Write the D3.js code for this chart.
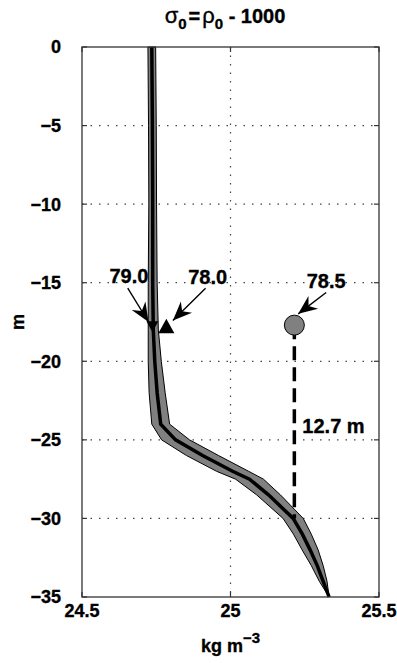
<!DOCTYPE html>
<html>
<head>
<meta charset="utf-8">
<script src="https://cdn.jsdelivr.net/npm/d3@7"></script>
<style>
  body { margin: 0; background: #fff; }
  text { font-family: "Liberation Sans", Arial, sans-serif; font-weight: bold; fill: #000; stroke: #000; stroke-width: 0.35px; }
</style>
</head>
<body>
<div id="chart"></div>
<script>
// density profile (sigma_0, kg m^-3) against depth (m)
const depth = [0, -5, -10, -15, -18, -20, -22, -24, -25, -26, -27, -27.5, -28.5, -30, -31, -32, -33, -34, -35];
const sigmaMean = [24.735, 24.737, 24.738, 24.738, 24.740, 24.745, 24.753, 24.765, 24.815, 24.906, 25.007, 25.064, 25.128, 25.211, 25.242, 25.268, 25.292, 25.312, 25.332];
const sigmaLow = [24.722, 24.724, 24.725, 24.723, 24.723, 24.723, 24.726, 24.735, 24.768, 24.852, 24.953, 25.017, 25.088, 25.177, 25.212, 25.241, 25.272, 25.299, 25.332];
const sigmaHigh = [24.748, 24.750, 24.751, 24.753, 24.757, 24.767, 24.780, 24.795, 24.862, 24.960, 25.061, 25.111, 25.168, 25.245, 25.272, 25.295, 25.312, 25.325, 25.332];

const xTicks = [24.5, 25, 25.5];
const yTicks = [0, -5, -10, -15, -20, -25, -30, -35];

// markers: [sigma, depth]
const markDown = [24.737, -17.8];
const markUp = [24.784, -17.75];
const markCircle = [25.215, -17.7];
const dropDepth = -30;

// annotations: label, label position, arrow start, arrow tip
const notes = [
  { label: "79.0", at: [24.658, -15.0], from: [24.654, -15.34], to: [24.724, -17.5] },
  { label: "78.0", at: [24.923, -15.1], from: [24.916, -15.36], to: [24.806, -17.4] },
  { label: "78.5", at: [25.322, -15.35], from: [25.322, -15.62], to: [25.228, -16.98] },
];
const gapLabel = { label: "12.7 m", at: [25.242, -24.57] };

const width = 397, height = 663;
const margin = { top: 47, right: 18, bottom: 66, left: 82 };

const x = d3.scaleLinear().domain([24.5, 25.5]).range([margin.left, width - margin.right]);
const y = d3.scaleLinear().domain([0, -35]).range([margin.top, height - margin.bottom]);

const svg = d3.select("#chart").append("svg")
  .attr("width", width)
  .attr("height", height);

// grid
const gGrid = svg.append("g").attr("class", "grid")
  .attr("stroke", "#444").attr("stroke-width", 1.2).attr("stroke-dasharray", "1.5,7");
gGrid.selectAll(".gx")
  .data(xTicks.slice(1, -1))
  .join("line")
  .attr("x1", (d) => x(d)).attr("x2", (d) => x(d))
  .attr("y1", y(0)).attr("y2", y(-35));
gGrid.selectAll(".gy")
  .data(yTicks.slice(1, -1))
  .join("line")
  .attr("y1", (d) => y(d)).attr("y2", (d) => y(d))
  .attr("x1", x(24.5)).attr("x2", x(25.5));

// band + mean line
const rows = depth.map((d, i) => ({ d, m: sigmaMean[i], lo: sigmaLow[i], hi: sigmaHigh[i] }));
const area = d3.area()
  .y((d) => y(d.d))
  .x0((d) => x(d.lo))
  .x1((d) => x(d.hi));
svg.append("path")
  .datum(rows)
  .attr("d", area)
  .attr("fill", "#808080")
  .attr("stroke", "#000")
  .attr("stroke-width", 1);
svg.append("path")
  .datum(rows)
  .attr("d", d3.line().x((d) => x(d.m)).y((d) => y(d.d)))
  .attr("fill", "none")
  .attr("stroke", "#000")
  .attr("stroke-width", 3.5);

// dashed drop line and circle
svg.append("line")
  .attr("x1", x(markCircle[0])).attr("x2", x(markCircle[0]))
  .attr("y1", y(markCircle[1])).attr("y2", y(dropDepth))
  .attr("stroke", "#000").attr("stroke-width", 3.5)
  .attr("stroke-dasharray", "14,7");
svg.append("circle")
  .attr("cx", x(markCircle[0])).attr("cy", y(markCircle[1]))
  .attr("r", 10)
  .attr("fill", "#808080").attr("stroke", "#000").attr("stroke-width", 1);

// triangles
const tri = (cx, cy, s, up) => {
  const h = s * 0.9;
  return up
    ? `M${cx},${cy - h / 2}L${cx + s / 2},${cy + h / 2}L${cx - s / 2},${cy + h / 2}Z`
    : `M${cx},${cy + h / 2}L${cx + s / 2},${cy - h / 2}L${cx - s / 2},${cy - h / 2}Z`;
};
svg.append("path").attr("d", tri(x(markDown[0]), y(markDown[1]), 12, false)).attr("fill", "#000");
svg.append("path").attr("d", tri(x(markUp[0]), y(markUp[1]), 16, true)).attr("fill", "#000");

// arrows
function arrowHead(x1, y1, x2, y2) {
  const a = Math.atan2(y2 - y1, x2 - x1);
  const len = 19, half = 8, back = 13;
  const px = (l, w) => [x2 - l * Math.cos(a) - w * Math.sin(a), y2 - l * Math.sin(a) + w * Math.cos(a)];
  const p1 = px(len, half), p2 = px(back, 0), p3 = px(len, -half);
  return `M${x2},${y2}L${p1}L${p2}L${p3}Z`;
}
const gNotes = svg.append("g");
notes.forEach((n) => {
  const x1 = x(n.from[0]), y1 = y(n.from[1]), x2 = x(n.to[0]), y2 = y(n.to[1]);
  gNotes.append("line")
    .attr("x1", x1).attr("y1", y1).attr("x2", x2).attr("y2", y2)
    .attr("stroke", "#000").attr("stroke-width", 1.4);
  gNotes.append("path").attr("d", arrowHead(x1, y1, x2, y2)).attr("fill", "#000");
  gNotes.append("text")
    .attr("x", x(n.at[0])).attr("y", y(n.at[1]))
    .attr("text-anchor", "middle")
    .attr("font-size", 20)
    .text(n.label);
});
svg.append("text")
  .attr("x", x(gapLabel.at[0])).attr("y", y(gapLabel.at[1]))
  .attr("font-size", 20)
  .text(gapLabel.label);

// frame
svg.append("rect")
  .attr("x", x(24.5)).attr("y", y(0))
  .attr("width", x(25.5) - x(24.5)).attr("height", y(-35) - y(0))
  .attr("fill", "none").attr("stroke", "#333").attr("stroke-width", 1.3);

// ticks
const gTicks = svg.append("g").attr("stroke", "#333").attr("stroke-width", 1.2);
yTicks.forEach((t) => {
  gTicks.append("line").attr("x1", x(24.5)).attr("x2", x(24.5) + 5).attr("y1", y(t)).attr("y2", y(t));
  gTicks.append("line").attr("x1", x(25.5)).attr("x2", x(25.5) - 5).attr("y1", y(t)).attr("y2", y(t));
});
xTicks.forEach((t) => {
  gTicks.append("line").attr("x1", x(t)).attr("x2", x(t)).attr("y1", y(-35)).attr("y2", y(-35) - 5);
  gTicks.append("line").attr("x1", x(t)).attr("x2", x(t)).attr("y1", y(0)).attr("y2", y(0) + 5);
});

// tick labels
svg.append("g").selectAll("text")
  .data(yTicks)
  .join("text")
  .attr("x", x(24.5) - 21)
  .attr("y", (d) => y(d))
  .attr("dy", "0.36em")
  .attr("text-anchor", "end")
  .attr("font-size", 18)
  .text((d) => (d < 0 ? "\u2212" + Math.abs(d) : d));
svg.append("g").selectAll("text")
  .data(xTicks)
  .join("text")
  .attr("x", (d) => x(d))
  .attr("y", y(-35) + 20)
  .attr("text-anchor", "middle")
  .attr("font-size", 18)
  .text((d) => d);

// axis titles
const xt = svg.append("text")
  .attr("x", (x(24.5) + x(25.5)) / 2)
  .attr("y", 652)
  .attr("text-anchor", "middle")
  .attr("font-size", 18);
xt.append("tspan").text("kg m");
xt.append("tspan").attr("dy", -9).attr("font-size", 15).text("\u22123");

svg.append("text")
  .attr("transform", `translate(24,${(y(0) + y(-35)) / 2}) rotate(-90)`)
  .attr("text-anchor", "middle")
  .attr("font-size", 18)
  .text("m");

const title = svg.append("text")
  .attr("x", 225)
  .attr("y", 23)
  .attr("text-anchor", "middle")
  .attr("font-size", 20);
title.append("tspan").attr("font-weight", "normal").attr("font-size", 22).text("\u03c3");
title.append("tspan").attr("dy", 6).attr("font-size", 15).text("0");
title.append("tspan").attr("dy", -6).attr("dx", 2).text("=");
title.append("tspan").attr("font-weight", "normal").attr("font-size", 22).attr("dx", 2).text("\u03c1");
title.append("tspan").attr("dy", 6).attr("font-size", 15).text("0");
title.append("tspan").attr("dy", -6).text(" - 1000");
</script>
</body>
</html>
